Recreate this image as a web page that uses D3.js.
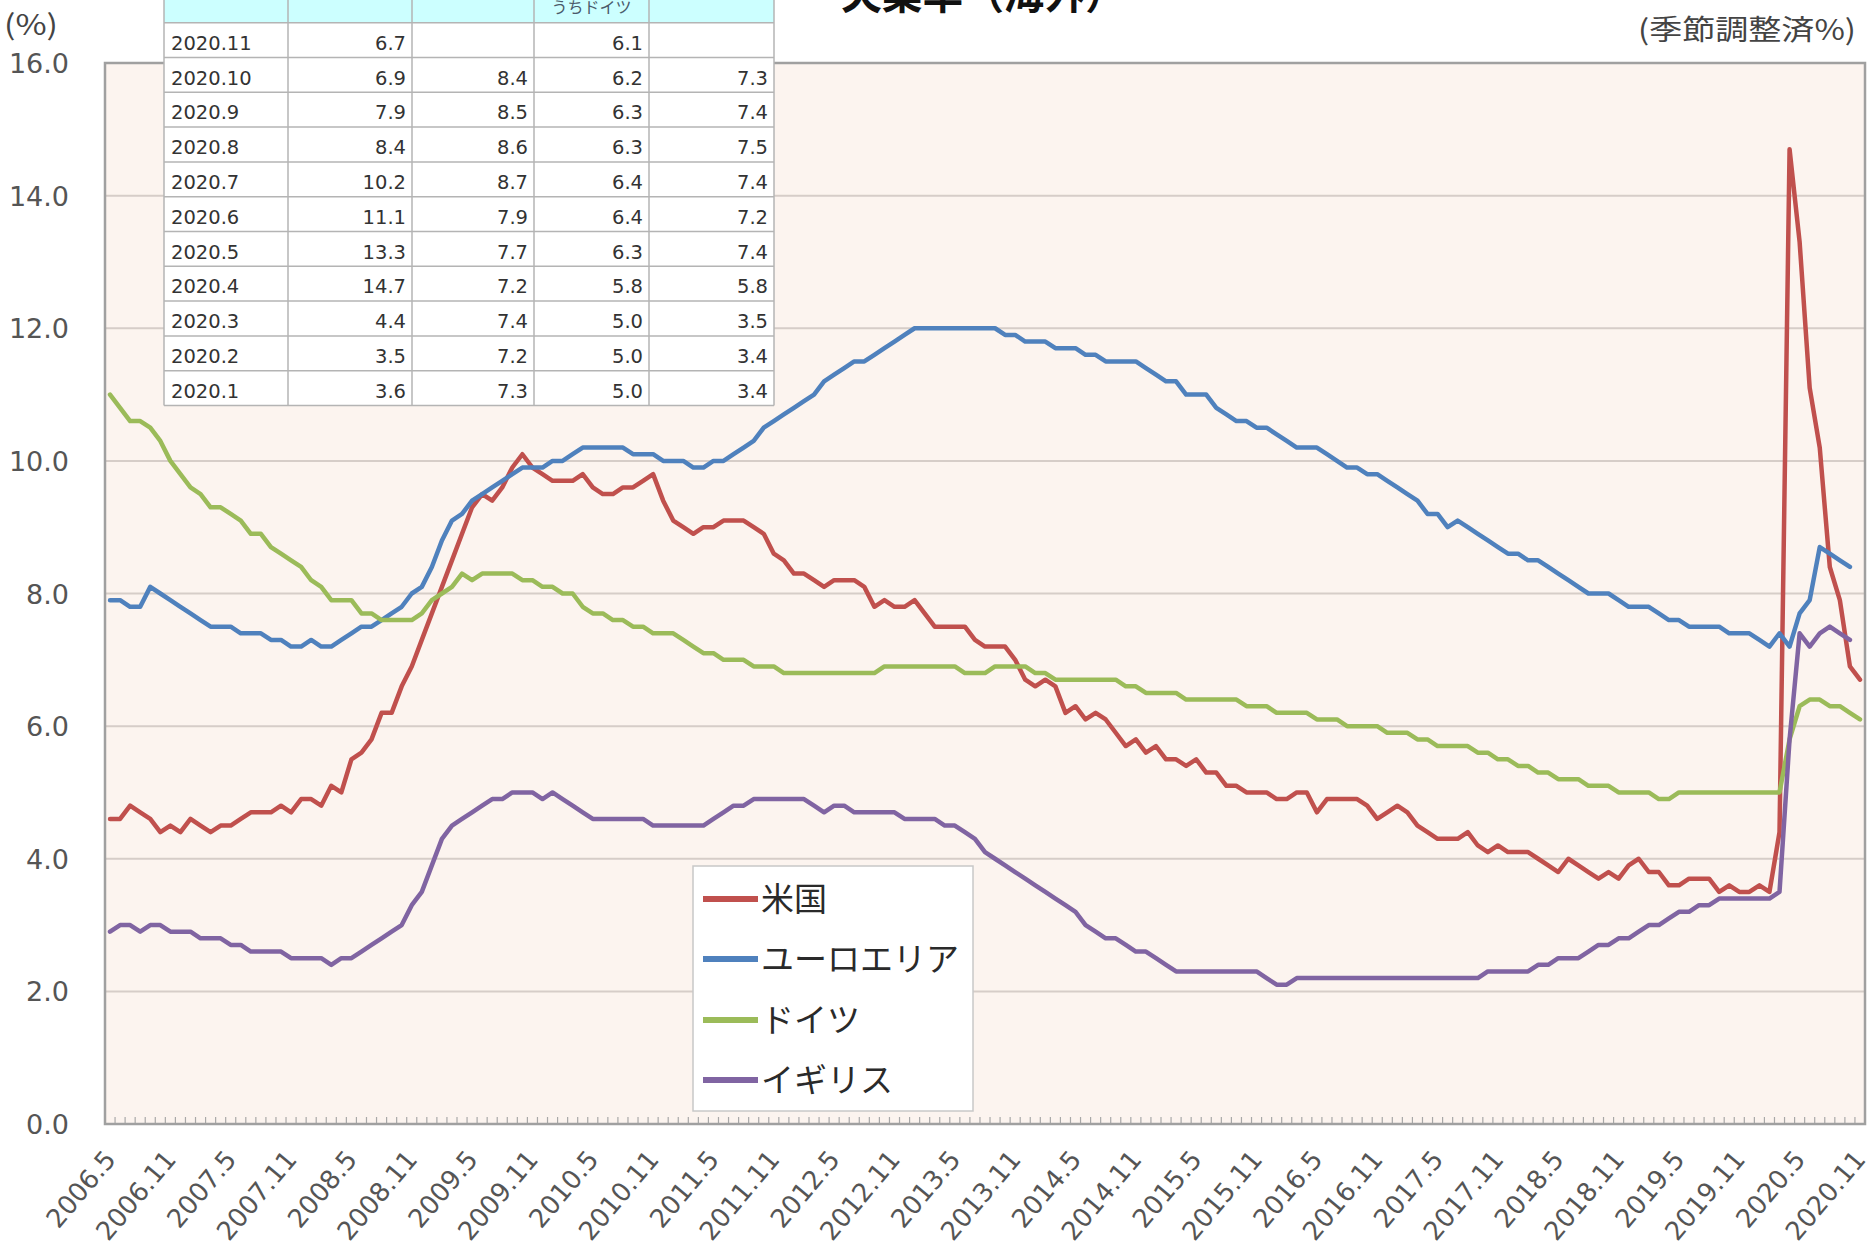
<!DOCTYPE html>
<html>
<head>
<meta charset="utf-8">
<script src="https://cdn.jsdelivr.net/npm/d3@7"></script>
<style>
  body { margin: 0; background: #fff; overflow: hidden; }
  svg { display: block; }
</style>
</head>
<body>
<script>
// monthly unemployment rates, 2006.5 - 2020.11
var usa = [
  4.6,4.6,4.8,4.7,4.6,4.4,4.5,4.4,4.6,4.5,
  4.4,4.5,4.5,4.6,4.7,4.7,4.7,4.8,4.7,4.9,
  4.9,4.8,5.1,5.0,5.5,5.6,5.8,6.2,6.2,6.6,
  6.9,7.3,7.7,8.1,8.5,8.9,9.3,9.5,9.4,9.6,
  9.9,10.1,9.9,9.8,9.7,9.7,9.7,9.8,9.6,9.5,
  9.5,9.6,9.6,9.7,9.8,9.4,9.1,9.0,8.9,9.0,
  9.0,9.1,9.1,9.1,9.0,8.9,8.6,8.5,8.3,8.3,
  8.2,8.1,8.2,8.2,8.2,8.1,7.8,7.9,7.8,7.8,
  7.9,7.7,7.5,7.5,7.5,7.5,7.3,7.2,7.2,7.2,
  7.0,6.7,6.6,6.7,6.6,6.2,6.3,6.1,6.2,6.1,
  5.9,5.7,5.8,5.6,5.7,5.5,5.5,5.4,5.5,5.3,
  5.3,5.1,5.1,5.0,5.0,5.0,4.9,4.9,5.0,5.0,
  4.7,4.9,4.9,4.9,4.9,4.8,4.6,4.7,4.8,4.7,
  4.5,4.4,4.3,4.3,4.3,4.4,4.2,4.1,4.2,4.1,
  4.1,4.1,4.0,3.9,3.8,4.0,3.9,3.8,3.7,3.8,
  3.7,3.9,4.0,3.8,3.8,3.6,3.6,3.7,3.7,3.7,
  3.5,3.6,3.5,3.5,3.6,3.5,4.4,14.7,13.3,11.1,
  10.2,8.4,7.9,6.9,6.7
];
var euroArea = [
  7.9,7.9,7.8,7.8,8.1,8.0,7.9,7.8,7.7,7.6,
  7.5,7.5,7.5,7.4,7.4,7.4,7.3,7.3,7.2,7.2,
  7.3,7.2,7.2,7.3,7.4,7.5,7.5,7.6,7.7,7.8,
  8.0,8.1,8.4,8.8,9.1,9.2,9.4,9.5,9.6,9.7,
  9.8,9.9,9.9,9.9,10.0,10.0,10.1,10.2,10.2,10.2,
  10.2,10.2,10.1,10.1,10.1,10.0,10.0,10.0,9.9,9.9,
  10.0,10.0,10.1,10.2,10.3,10.5,10.6,10.7,10.8,10.9,
  11.0,11.2,11.3,11.4,11.5,11.5,11.6,11.7,11.8,11.9,
  12.0,12.0,12.0,12.0,12.0,12.0,12.0,12.0,12.0,11.9,
  11.9,11.8,11.8,11.8,11.7,11.7,11.7,11.6,11.6,11.5,
  11.5,11.5,11.5,11.4,11.3,11.2,11.2,11.0,11.0,11.0,
  10.8,10.7,10.6,10.6,10.5,10.5,10.4,10.3,10.2,10.2,
  10.2,10.1,10.0,9.9,9.9,9.8,9.8,9.7,9.6,9.5,
  9.4,9.2,9.2,9.0,9.1,9.0,8.9,8.8,8.7,8.6,
  8.6,8.5,8.5,8.4,8.3,8.2,8.1,8.0,8.0,8.0,
  7.9,7.8,7.8,7.8,7.7,7.6,7.6,7.5,7.5,7.5,
  7.5,7.4,7.4,7.4,7.3,7.2,7.4,7.2,7.7,7.9,
  8.7,8.6,8.5,8.4,null
];
var germany = [
  11.0,10.8,10.6,10.6,10.5,10.3,10.0,9.8,9.6,9.5,
  9.3,9.3,9.2,9.1,8.9,8.9,8.7,8.6,8.5,8.4,
  8.2,8.1,7.9,7.9,7.9,7.7,7.7,7.6,7.6,7.6,
  7.6,7.7,7.9,8.0,8.1,8.3,8.2,8.3,8.3,8.3,
  8.3,8.2,8.2,8.1,8.1,8.0,8.0,7.8,7.7,7.7,
  7.6,7.6,7.5,7.5,7.4,7.4,7.4,7.3,7.2,7.1,
  7.1,7.0,7.0,7.0,6.9,6.9,6.9,6.8,6.8,6.8,
  6.8,6.8,6.8,6.8,6.8,6.8,6.8,6.9,6.9,6.9,
  6.9,6.9,6.9,6.9,6.9,6.8,6.8,6.8,6.9,6.9,
  6.9,6.9,6.8,6.8,6.7,6.7,6.7,6.7,6.7,6.7,
  6.7,6.6,6.6,6.5,6.5,6.5,6.5,6.4,6.4,6.4,
  6.4,6.4,6.4,6.3,6.3,6.3,6.2,6.2,6.2,6.2,
  6.1,6.1,6.1,6.0,6.0,6.0,6.0,5.9,5.9,5.9,
  5.8,5.8,5.7,5.7,5.7,5.7,5.6,5.6,5.5,5.5,
  5.4,5.4,5.3,5.3,5.2,5.2,5.2,5.1,5.1,5.1,
  5.0,5.0,5.0,5.0,4.9,4.9,5.0,5.0,5.0,5.0,
  5.0,5.0,5.0,5.0,5.0,5.0,5.0,5.8,6.3,6.4,
  6.4,6.3,6.3,6.2,6.1
];
var uk = [
  2.9,3.0,3.0,2.9,3.0,3.0,2.9,2.9,2.9,2.8,
  2.8,2.8,2.7,2.7,2.6,2.6,2.6,2.6,2.5,2.5,
  2.5,2.5,2.4,2.5,2.5,2.6,2.7,2.8,2.9,3.0,
  3.3,3.5,3.9,4.3,4.5,4.6,4.7,4.8,4.9,4.9,
  5.0,5.0,5.0,4.9,5.0,4.9,4.8,4.7,4.6,4.6,
  4.6,4.6,4.6,4.6,4.5,4.5,4.5,4.5,4.5,4.5,
  4.6,4.7,4.8,4.8,4.9,4.9,4.9,4.9,4.9,4.9,
  4.8,4.7,4.8,4.8,4.7,4.7,4.7,4.7,4.7,4.6,
  4.6,4.6,4.6,4.5,4.5,4.4,4.3,4.1,4.0,3.9,
  3.8,3.7,3.6,3.5,3.4,3.3,3.2,3.0,2.9,2.8,
  2.8,2.7,2.6,2.6,2.5,2.4,2.3,2.3,2.3,2.3,
  2.3,2.3,2.3,2.3,2.3,2.2,2.1,2.1,2.2,2.2,
  2.2,2.2,2.2,2.2,2.2,2.2,2.2,2.2,2.2,2.2,
  2.2,2.2,2.2,2.2,2.2,2.2,2.2,2.3,2.3,2.3,
  2.3,2.3,2.4,2.4,2.5,2.5,2.5,2.6,2.7,2.7,
  2.8,2.8,2.9,3.0,3.0,3.1,3.2,3.2,3.3,3.3,
  3.4,3.4,3.4,3.4,3.4,3.4,3.5,5.8,7.4,7.2,
  7.4,7.5,7.4,7.3,null
];

var seriesNames = ["米国", "ユーロエリア", "ドイツ", "イギリス"];
var seriesColors = ["#c0504d", "#4f81bd", "#9bbb59", "#8064a2"];

var xTickLabels = ["2006.5","2006.11","2007.5","2007.11","2008.5","2008.11","2009.5","2009.11",
  "2010.5","2010.11","2011.5","2011.11","2012.5","2012.11","2013.5","2013.11","2014.5","2014.11",
  "2015.5","2015.11","2016.5","2016.11","2017.5","2017.11","2018.5","2018.11","2019.5","2019.11",
  "2020.5","2020.11"];
var yTicks = [0, 2, 4, 6, 8, 10, 12, 14, 16];

// the small table pasted over the top left of the chart
var tableHead = ["年月", "米国", "ユーロエリア", "うちドイツ", "イギリス"];
var tableMonths = ["2020.11","2020.10","2020.9","2020.8","2020.7","2020.6","2020.5","2020.4","2020.3","2020.2","2020.1"];
var tableUsa    = ["6.7","6.9","7.9","8.4","10.2","11.1","13.3","14.7","4.4","3.5","3.6"];
var tableEuro   = ["","8.4","8.5","8.6","8.7","7.9","7.7","7.2","7.4","7.2","7.3"];
var tableGer    = ["6.1","6.2","6.3","6.3","6.4","6.4","6.3","5.8","5.0","5.0","5.0"];
var tableUk     = ["","7.3","7.4","7.5","7.4","7.2","7.4","5.8","3.5","3.4","3.4"];

// month categories 2006.5 ... 2020.11
var months = [];
var yr = 2006, mo = 5;
while (months.length < usa.length) {
  months.push(yr + "." + mo);
  mo++;
  if (mo > 12) { mo = 1; yr++; }
}

var width = 1872, height = 1253;
var plot = {left: 105, right: 1865, top: 63, bottom: 1124};
var numFont = "'DejaVu Sans', Verdana, sans-serif";
var jpFont = "'Noto Sans CJK JP', 'Noto Sans', sans-serif";

var svg = d3.select("body").append("svg")
  .attr("width", width)
  .attr("height", height);

var x = d3.scaleBand().domain(months).range([plot.left, plot.right]);
var bw = x.bandwidth();
function cx(m) { return x(m) + bw / 2; }

var y = d3.scaleLinear().domain([0, 16]).range([plot.bottom, plot.top]);

// plot area background
svg.append("rect")
  .attr("x", plot.left).attr("y", plot.top)
  .attr("width", plot.right - plot.left).attr("height", plot.bottom - plot.top)
  .attr("fill", "#fcf4ef");

// grid lines
svg.append("g").selectAll("line")
  .data(yTicks.filter(function(d) { return d > 0 && d < 16; }))
  .enter().append("line")
  .attr("x1", plot.left).attr("x2", plot.right)
  .attr("y1", function(d) { return y(d); }).attr("y2", function(d) { return y(d); })
  .attr("stroke", "#d6cdc8").attr("stroke-width", 2);

// y axis labels
svg.append("g").selectAll("text")
  .data(yTicks)
  .enter().append("text")
  .attr("x", 69)
  .attr("y", function(d) { return y(d) + 10; })
  .attr("text-anchor", "end")
  .attr("font-family", numFont).attr("font-size", 27)
  .attr("fill", "#555")
  .text(function(d) { return d3.format(".1f")(d); });

// month ticks along the bottom
var tickX = months.map(function(m) { return x(m); }).concat([plot.right]);
svg.append("g").selectAll("line")
  .data(tickX)
  .enter().append("line")
  .attr("x1", function(d) { return d; }).attr("x2", function(d) { return d; })
  .attr("y1", plot.bottom).attr("y2", plot.bottom - 7)
  .attr("stroke", "#a8a8a8").attr("stroke-width", 1.2);

// plot border
svg.append("rect")
  .attr("x", plot.left).attr("y", plot.top)
  .attr("width", plot.right - plot.left).attr("height", plot.bottom - plot.top)
  .attr("fill", "none").attr("stroke", "#a0a0a0").attr("stroke-width", 2.5);

// x axis labels (rotated)
svg.append("g").selectAll("text")
  .data(xTickLabels)
  .enter().append("text")
  .attr("transform", function(d) {
    return "translate(" + (cx(d) + 7) + "," + 1160 + ") rotate(-50)";
  })
  .attr("text-anchor", "end")
  .attr("font-family", numFont).attr("font-size", 26)
  .attr("fill", "#555")
  .text(function(d) { return d; });

// series lines
var allSeries = [usa, euroArea, germany, uk];
var line = d3.line()
  .defined(function(d) { return d != null; })
  .x(function(d, i) { return cx(months[i]); })
  .y(function(d) { return y(d); });

svg.append("g").selectAll("path")
  .data(allSeries)
  .enter().append("path")
  .attr("d", line)
  .attr("fill", "none")
  .attr("stroke", function(d, i) { return seriesColors[i]; })
  .attr("stroke-width", 4.5)
  .attr("stroke-linejoin", "round")
  .attr("stroke-linecap", "round");

// legend
var legend = svg.append("g");
legend.append("rect")
  .attr("x", 693).attr("y", 866).attr("width", 280).attr("height", 245)
  .attr("fill", "#fff").attr("stroke", "#c8c8c8").attr("stroke-width", 1.5);
var legendY = [899, 959, 1020, 1080];
seriesNames.forEach(function(name, i) {
  legend.append("line")
    .attr("x1", 703).attr("x2", 758)
    .attr("y1", legendY[i]).attr("y2", legendY[i])
    .attr("stroke", seriesColors[i]).attr("stroke-width", 6);
  legend.append("text")
    .attr("x", 761).attr("y", legendY[i] + 12)
    .attr("font-family", jpFont).attr("font-size", 33)
    .attr("fill", "#2a2a2a")
    .text(name);
});

// titles
svg.append("text")
  .attr("x", 841).attr("y", 9)
  .attr("textLength", 285).attr("lengthAdjust", "spacingAndGlyphs")
  .attr("font-family", jpFont).attr("font-size", 44).attr("font-weight", "bold")
  .attr("fill", "#111")
  .text("失業率（海外）");
svg.append("text")
  .attr("x", 1638).attr("y", 40)
  .attr("textLength", 218).attr("lengthAdjust", "spacingAndGlyphs")
  .attr("font-family", jpFont).attr("font-size", 28)
  .attr("fill", "#444")
  .text("(季節調整済%)");
svg.append("text")
  .attr("x", 4).attr("y", 35)
  .attr("textLength", 54).attr("lengthAdjust", "spacingAndGlyphs")
  .attr("font-family", jpFont).attr("font-size", 28)
  .attr("fill", "#444")
  .text("(%)");

// pasted table
var colX = [164, 288, 412, 534, 649, 774];
var rowTop = 22.7, rowH = 34.8;
var tbl = svg.append("g");
tbl.append("rect")
  .attr("x", colX[0]).attr("y", -30)
  .attr("width", colX[5] - colX[0]).attr("height", rowTop + 30)
  .attr("fill", "#ccffff");
tbl.append("rect")
  .attr("x", colX[0]).attr("y", rowTop)
  .attr("width", colX[5] - colX[0]).attr("height", rowH * tableMonths.length)
  .attr("fill", "#fff");

tableHead.forEach(function(h, c) {
  var cxh = (colX[c] + colX[c + 1]) / 2;
  tbl.append("text")
    .attr("x", cxh).attr("y", c === 3 ? 13 : -3)
    .attr("text-anchor", "middle")
    .attr("font-family", jpFont).attr("font-size", 16)
    .attr("fill", "#4a5a6a")
    .text(h);
});

var tableCols = [tableMonths, tableUsa, tableEuro, tableGer, tableUk];
tableCols.forEach(function(col, c) {
  col.forEach(function(v, r) {
    tbl.append("text")
      .attr("x", c === 0 ? colX[0] + 7 : colX[c + 1] - 6)
      .attr("y", rowTop + r * rowH + 27)
      .attr("text-anchor", c === 0 ? "start" : "end")
      .attr("font-family", numFont).attr("font-size", 19.5)
      .attr("fill", "#333")
      .text(v);
  });
});

// table rules
var rowLines = d3.range(tableMonths.length + 1).map(function(r) { return rowTop + r * rowH; });
tbl.append("g").selectAll("line")
  .data(rowLines)
  .enter().append("line")
  .attr("x1", colX[0]).attr("x2", colX[5])
  .attr("y1", function(d) { return d; }).attr("y2", function(d) { return d; })
  .attr("stroke", "#b4b4b4").attr("stroke-width", 1.5);
tbl.append("g").selectAll("line")
  .data(colX)
  .enter().append("line")
  .attr("x1", function(d) { return d; }).attr("x2", function(d) { return d; })
  .attr("y1", 0).attr("y2", rowLines[rowLines.length - 1])
  .attr("stroke", "#b4b4b4").attr("stroke-width", 1.5);
</script>
</body>
</html>
